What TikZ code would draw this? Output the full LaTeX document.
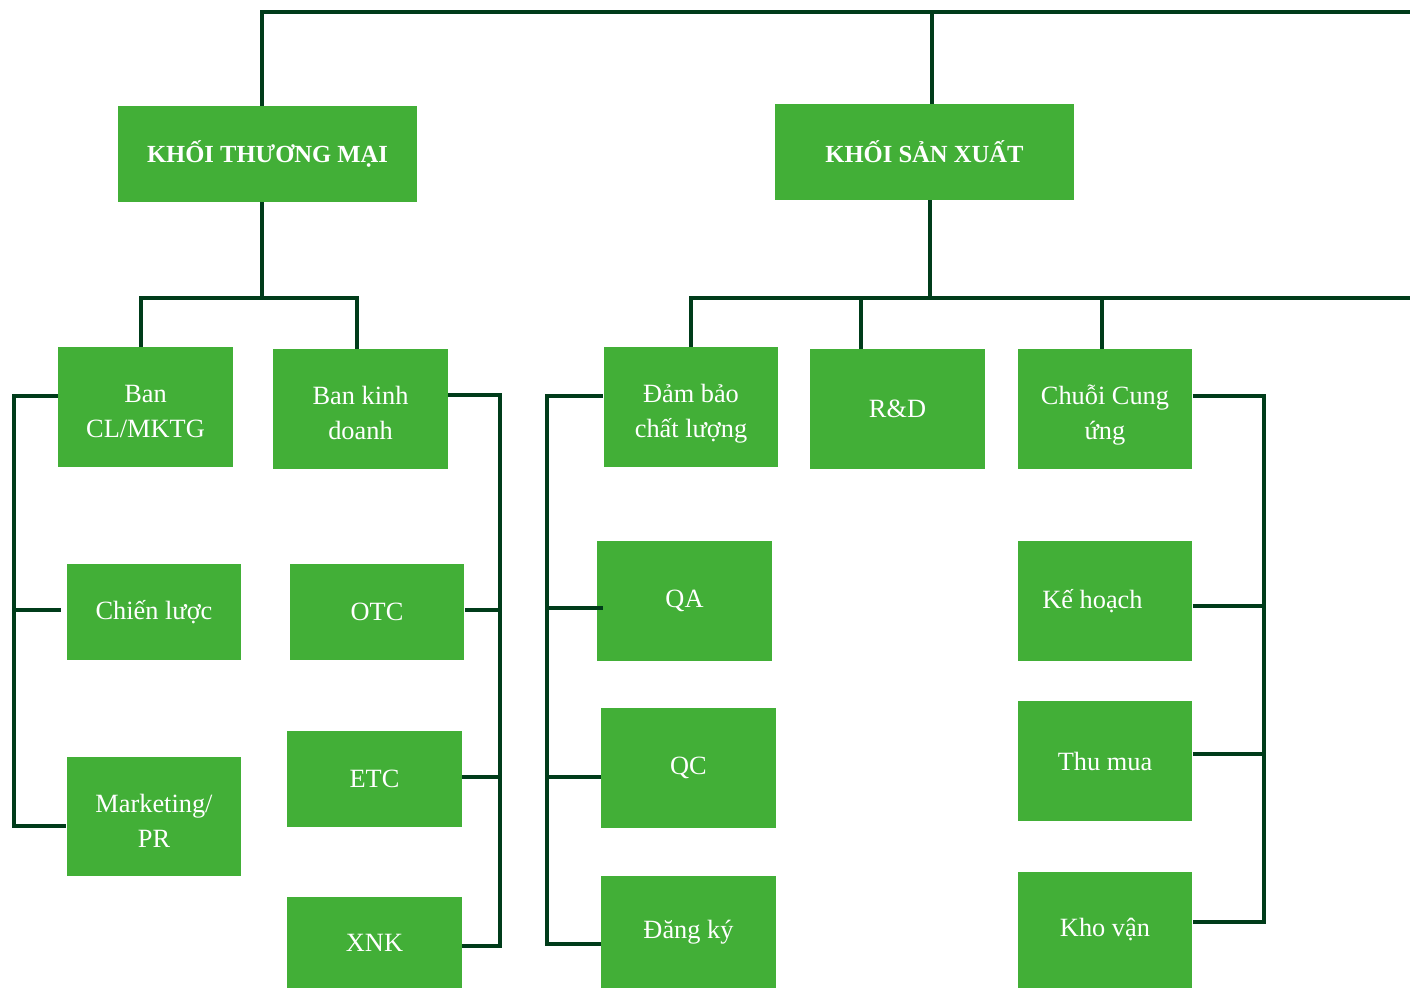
\documentclass[tikz,border=0pt]{standalone}
\usepackage{fontspec}
\setmainfont{Liberation Serif}
\usepackage{tikz}
\usetikzlibrary{positioning,calc}
\definecolor{boxgreen}{RGB}{66,175,55}
\definecolor{linegreen}{RGB}{0,60,26}

\begin{document}
\begin{tikzpicture}[
    x=0.02cm, y=-0.02cm,
    every node/.style={font=\fontsize{15}{20}\selectfont},
    block/.style={rectangle, fill=boxgreen, text=white, inner sep=0pt, align=center, minimum width=6cm, minimum height=1.92cm, font=\fontsize{14}{18}\selectfont\bfseries},
    unit/.style={rectangle, fill=boxgreen, text=white, inner sep=0pt, align=center, minimum width=3.5cm, minimum height=#1},
    unit/.default=2.4cm,
    twoline/.style={text height=1.34cm, text depth=0.1cm},
    link/.style={draw=linegreen, line width=2.3pt}
]
\useasboundingbox (0,0) rectangle (1410,989);

% Top bar
\coordinate (topL) at (262,12);
\coordinate (topR) at (1410,12);
\coordinate (midR) at (1410,298);

% Two main blocks
\node[block] (ktm) at (267.5,154) {KHỐI THƯƠNG MẠI};
\node[block] (ksx) at (924.5,152) {KHỐI SẢN XUẤT};

% Khoi thuong mai
\node[unit, twoline] (bcl) at (145.5,407) {Ban\\CL/MKTG};
\node[unit, twoline] (bkd) at (360.5,409) {Ban kinh\\doanh};
\node[unit=1.92cm] (cl) at (154,612) {Chiến lược};
\node[unit, twoline] (mkt) at (154,816.5) {Marketing/\\PR};
\node[unit=1.92cm] (otc) at (377,612) {OTC};
\node[unit=1.92cm] (etc) at (374.5,779) {ETC};
\node[unit=1.82cm] (xnk) at (374.5,942.5) {XNK};

% Khoi san xuat
\node[unit, twoline] (dbcl) at (691,407) {Đảm bảo\\chất lượng};
\node[unit] (rd) at (897.5,409) {R\&D};
\node[unit, twoline] (ccu) at (1105,409) {Chuỗi Cung\\ứng};
\node[unit] (qa) at (684.5,601) {QA};
\node[unit] (qc) at (688.5,768) {QC};
\node[unit=2.24cm] (dk) at (688.5,932) {Đăng ký};
\node[unit] (kh) at (1105,601) {\hspace*{-0.5cm}Kế hoạch};
\node[unit] (tm) at (1105,761) {Thu mua};
\node[unit=2.32cm] (kv) at (1105,930) {Kho vận};

% Top connectors
\draw[link] (ktm.north -| topL) -- (topL) -- (topR);
\draw[link] (ksx.north -| 932,12) -- (932,12);
\draw[link] (ktm.south -| topL) -- (262,298);
\draw[link] (bcl.north -| 141,298) -- (141,298) -| (bkd.north -| 357,298);
\draw[link] (ksx.south -| 930,204) -- (930,298);
\draw[link] (dbcl.north) -- (691,298) -- (midR);
\draw[link] (rd.north -| 861,298) -- (861,298);
\draw[link] (ccu.north -| 1102,298) -- (1102,298);

% Ban CL/MKTG bus
\draw[link] (bcl.west |- 0,396) -- (14,396) |- (mkt.west |- 0,826);
\draw[link] (14,610) -- ($(cl.west |- 0,610)+(-5,0)$);

% Ban kinh doanh bus
\draw[link] (bkd.east |- 0,395) -- (500,395) |- (xnk.east |- 0,946);
\draw[link] (otc.east |- 0,610) -- (500,610);
\draw[link] (etc.east |- 0,777) -- (500,777);

% Dam bao chat luong bus
\draw[link] (dbcl.west |- 0,396) -- (547,396) |- (dk.west |- 0,944);
\draw[link] (547,608) -- ($(qa.west |- 0,608)+(6,0)$);
\draw[link] (547,777) -- (qc.west |- 0,777);

% Chuoi cung ung bus
\draw[link] (ccu.east |- 0,396) -- (1264,396) |- (kv.east |- 0,922);
\draw[link] (kh.east |- 0,606) -- (1264,606);
\draw[link] (tm.east |- 0,754) -- (1264,754);

\end{tikzpicture}
\end{document}
